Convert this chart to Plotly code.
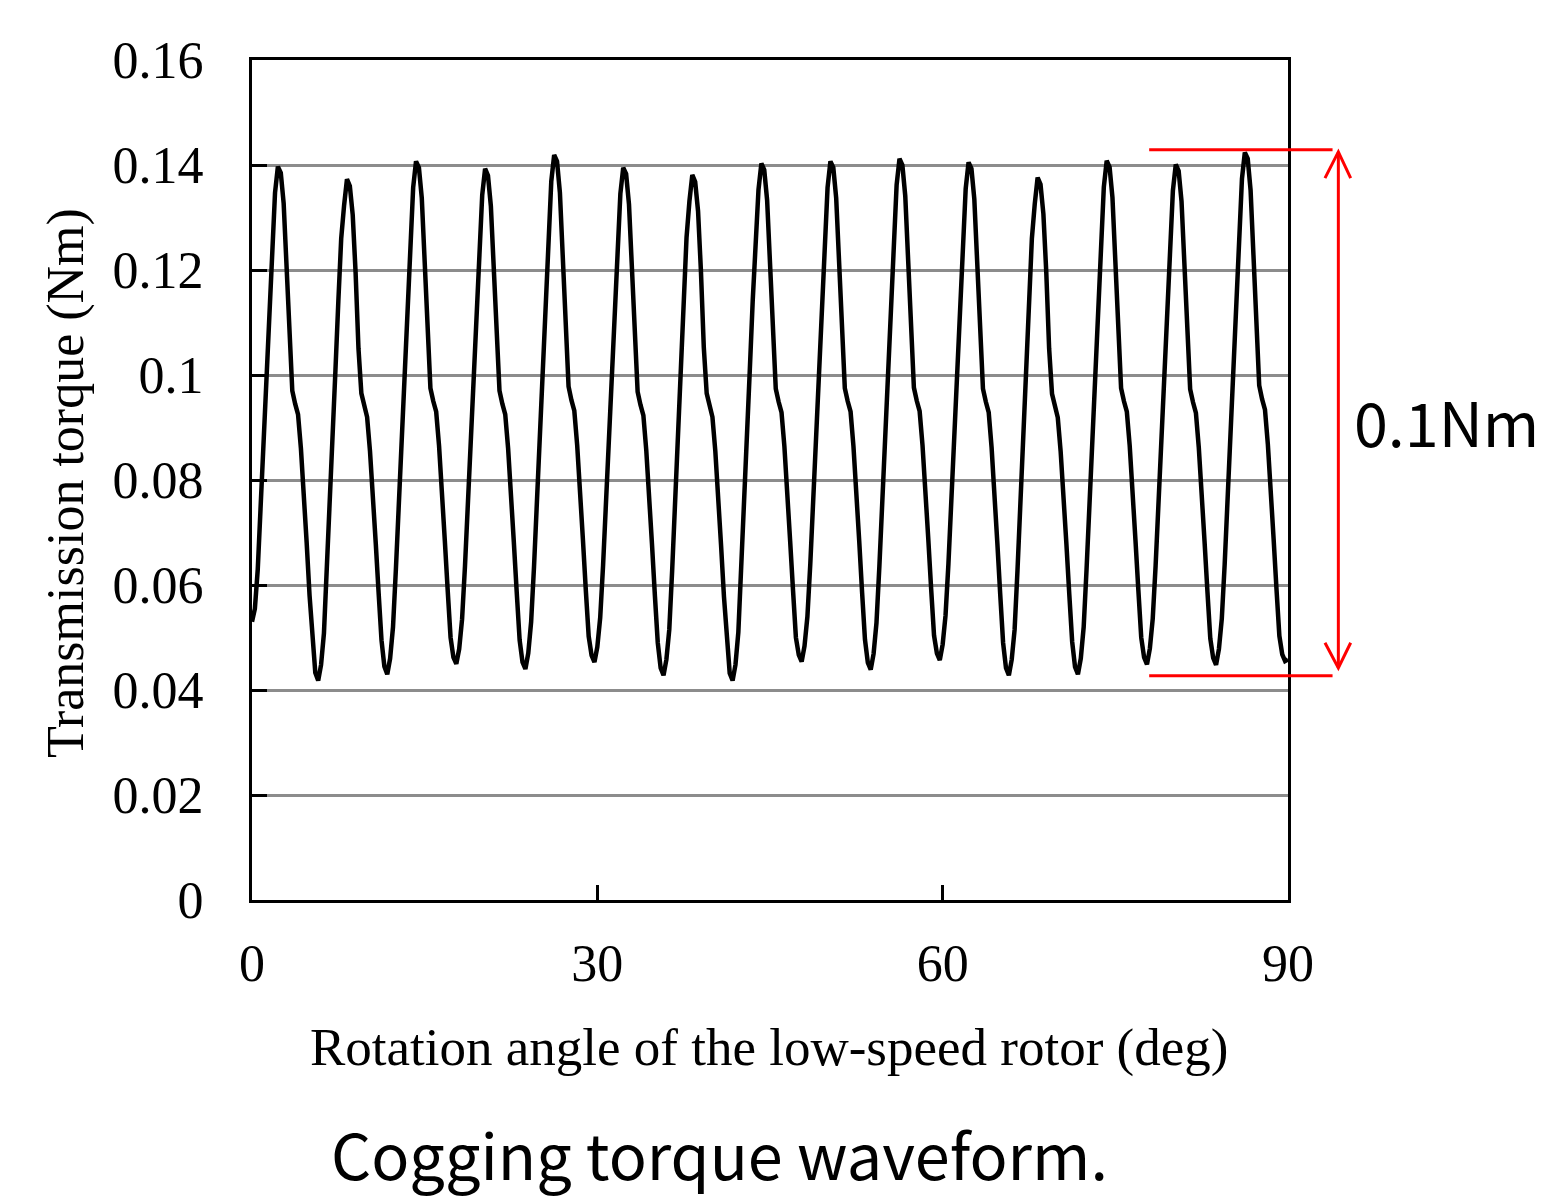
import plotly.graph_objects as go

# Rotation angle samples (deg), 0.25 deg step from 0 to 90
angle_deg = [i * 0.25 for i in range(361)]

# Transmission torque (Nm), one row per 6-degree period (24 samples each) + final point
torque_rows = [
    [0.0530, 0.0555, 0.0630, 0.0750, 0.0875, 0.1005, 0.1135, 0.1265, 0.1347, 0.1397, 0.1385, 0.1327,
     0.1210, 0.1060, 0.0970, 0.0945, 0.0925, 0.0860, 0.0780, 0.0680, 0.0580, 0.0490, 0.0433, 0.0418],
    [0.0448, 0.0508, 0.0625, 0.0750, 0.0880, 0.1010, 0.1140, 0.1260, 0.1323, 0.1373, 0.1360, 0.1305,
     0.1195, 0.1050, 0.0965, 0.0940, 0.0920, 0.0855, 0.0780, 0.0680, 0.0585, 0.0495, 0.0445, 0.0430],
    [0.0460, 0.0520, 0.0630, 0.0755, 0.0885, 0.1015, 0.1145, 0.1275, 0.1357, 0.1407, 0.1395, 0.1337,
     0.1215, 0.1065, 0.0975, 0.0950, 0.0930, 0.0865, 0.0785, 0.0685, 0.0590, 0.0500, 0.0462, 0.0450],
    [0.0478, 0.0535, 0.0635, 0.0755, 0.0880, 0.1010, 0.1140, 0.1265, 0.1343, 0.1393, 0.1380, 0.1322,
     0.1205, 0.1058, 0.0970, 0.0945, 0.0925, 0.0860, 0.0780, 0.0680, 0.0585, 0.0495, 0.0453, 0.0440],
    [0.0470, 0.0530, 0.0635, 0.0760, 0.0890, 0.1020, 0.1150, 0.1280, 0.1369, 0.1419, 0.1407, 0.1347,
     0.1222, 0.1068, 0.0978, 0.0952, 0.0932, 0.0866, 0.0786, 0.0686, 0.0590, 0.0502, 0.0466, 0.0453],
    [0.0482, 0.0538, 0.0638, 0.0755, 0.0880, 0.1010, 0.1140, 0.1265, 0.1345, 0.1395, 0.1383, 0.1325,
     0.1207, 0.1058, 0.0968, 0.0943, 0.0923, 0.0857, 0.0777, 0.0677, 0.0580, 0.0490, 0.0442, 0.0428],
    [0.0458, 0.0515, 0.0628, 0.0750, 0.0878, 0.1008, 0.1138, 0.1262, 0.1331, 0.1381, 0.1368, 0.1312,
     0.1198, 0.1052, 0.0965, 0.0940, 0.0920, 0.0855, 0.0775, 0.0675, 0.0578, 0.0488, 0.0432, 0.0418],
    [0.0448, 0.0510, 0.0625, 0.0752, 0.0882, 0.1012, 0.1142, 0.1272, 0.1353, 0.1403, 0.1391, 0.1333,
     0.1213, 0.1063, 0.0974, 0.0949, 0.0929, 0.0864, 0.0784, 0.0684, 0.0590, 0.0500, 0.0467, 0.0454],
    [0.0484, 0.0540, 0.0640, 0.0760, 0.0885, 0.1015, 0.1145, 0.1275, 0.1357, 0.1407, 0.1395, 0.1337,
     0.1215, 0.1065, 0.0975, 0.0950, 0.0930, 0.0864, 0.0784, 0.0684, 0.0586, 0.0496, 0.0452, 0.0439],
    [0.0469, 0.0528, 0.0635, 0.0758, 0.0887, 0.1017, 0.1147, 0.1277, 0.1362, 0.1412, 0.1400, 0.1341,
     0.1218, 0.1066, 0.0976, 0.0951, 0.0931, 0.0866, 0.0786, 0.0688, 0.0592, 0.0504, 0.0470, 0.0457],
    [0.0487, 0.0542, 0.0640, 0.0760, 0.0885, 0.1015, 0.1145, 0.1274, 0.1355, 0.1405, 0.1393, 0.1335,
     0.1214, 0.1064, 0.0974, 0.0949, 0.0929, 0.0862, 0.0782, 0.0680, 0.0582, 0.0490, 0.0442, 0.0428],
    [0.0458, 0.0515, 0.0628, 0.0750, 0.0878, 0.1008, 0.1138, 0.1260, 0.1326, 0.1376, 0.1363, 0.1307,
     0.1196, 0.1050, 0.0964, 0.0939, 0.0919, 0.0854, 0.0778, 0.0678, 0.0582, 0.0492, 0.0444, 0.0430],
    [0.0460, 0.0520, 0.0630, 0.0755, 0.0885, 0.1015, 0.1145, 0.1275, 0.1358, 0.1408, 0.1396, 0.1338,
     0.1216, 0.1065, 0.0975, 0.0950, 0.0930, 0.0865, 0.0785, 0.0685, 0.0590, 0.0500, 0.0462, 0.0449],
    [0.0479, 0.0536, 0.0637, 0.0757, 0.0883, 0.1013, 0.1143, 0.1271, 0.1351, 0.1401, 0.1389, 0.1331,
     0.1211, 0.1062, 0.0973, 0.0948, 0.0928, 0.0862, 0.0782, 0.0683, 0.0588, 0.0498, 0.0461, 0.0448],
    [0.0478, 0.0536, 0.0640, 0.0762, 0.0892, 0.1022, 0.1152, 0.1282, 0.1374, 0.1424, 0.1412, 0.1352,
     0.1226, 0.1070, 0.0980, 0.0954, 0.0934, 0.0868, 0.0788, 0.0688, 0.0592, 0.0503, 0.0468, 0.0455],
]
torque_end = [0.0458]
torque_nm = [v for row in torque_rows for v in row] + torque_end

# Ripple annotation levels (Nm)
ripple_max = 0.1429
ripple_min = 0.0427
ripple_label = "0.1Nm"

x_tick_vals = [0, 30, 60, 90]
x_tick_text = ["0", "30", "60", "90"]
y_tick_vals = [0, 0.02, 0.04, 0.06, 0.08, 0.10, 0.12, 0.14, 0.16]
y_tick_text = ["0", "0.02", "0.04", "0.06", "0.08", "0.1", "0.12", "0.14", "0.16"]

x_title = "Rotation angle of the low-speed rotor (deg)"
y_title = "Transmission torque (Nm)"
caption = "Cogging torque waveform."

serif = "Liberation Serif, Times New Roman, serif"
gothic = "Noto Sans CJK JP, Noto Sans, sans-serif"

fig = go.Figure()
fig.add_trace(go.Scatter(
    x=angle_deg, y=torque_nm, mode="lines",
    line=dict(color="black", width=4.5),
    showlegend=False, hoverinfo="x+y",
))

red = "#ff0000"
# horizontal red reference lines at max / min
for yv in (ripple_max, ripple_min):
    fig.add_shape(type="line", xref="paper", yref="y",
                  x0=0.866, x1=1.043, y0=yv, y1=yv,
                  line=dict(color=red, width=3))
# double arrow
ax = 1.0486
tip_top = 0.1425
tip_bot = 0.0442
fig.add_shape(type="line", xref="paper", yref="y",
              x0=ax, x1=ax, y0=tip_top, y1=tip_bot,
              line=dict(color=red, width=3))
fig.add_shape(type="path", xref="paper", yref="y",
              path=f"M {ax-0.0129},{tip_top-0.005} L {ax},{tip_top} L {ax+0.0119},{tip_top-0.005}",
              line=dict(color=red, width=3))
fig.add_shape(type="path", xref="paper", yref="y",
              path=f"M {ax-0.0129},{tip_bot+0.0048} L {ax},{tip_bot} L {ax+0.0119},{tip_bot+0.0048}",
              line=dict(color=red, width=3))

fig.add_annotation(text=ripple_label, xref="paper", yref="paper",
                   x=(1352 - 252) / 1036, y=(900 - 420) / 840, xanchor="left", yanchor="middle",
                   showarrow=False, font=dict(family=gothic, size=61, color="black"))

fig.add_annotation(text=x_title, xref="paper", yref="paper",
                   x=(769 - 252) / 1036, y=(900 - 1047) / 840, xanchor="center", yanchor="middle",
                   showarrow=False, font=dict(family=serif, size=53, color="black"))
fig.add_annotation(text=y_title, xref="paper", yref="paper", textangle=-90,
                   x=(66 - 252) / 1036, y=(900 - 483) / 840, xanchor="center", yanchor="middle",
                   showarrow=False, font=dict(family=serif, size=52, color="black"))
fig.add_annotation(text=caption, xref="paper", yref="paper",
                   x=(719 - 252) / 1036, y=(900 - 1152) / 840, xanchor="center", yanchor="middle",
                   showarrow=False, font=dict(family=gothic, size=63, color="black"))

fig.update_layout(
    width=1543, height=1198,
    margin=dict(l=252, r=255, t=60, b=298),
    paper_bgcolor="white", plot_bgcolor="white",
    font=dict(family=serif, color="black"),
    xaxis=dict(range=[0, 90], tickvals=x_tick_vals, ticktext=x_tick_text,
               ticks="inside", ticklen=15, tickwidth=3, tickcolor="black",
               showline=True, linecolor="black", linewidth=3, mirror=True,
               showgrid=False, zeroline=False,
               tickfont=dict(family=serif, size=52, color="black"),
               ticklabelstandoff=16),
    yaxis=dict(range=[0, 0.16], tickvals=y_tick_vals, ticktext=y_tick_text,
               ticks="inside", ticklen=15, tickwidth=3, tickcolor="black",
               showline=True, linecolor="black", linewidth=3, mirror=True,
               showgrid=True, gridcolor="#8c8c8c", gridwidth=3, zeroline=False,
               tickfont=dict(family=serif, size=52, color="black"),
               ticklabelstandoff=35),
)

fig.write_html("out.html",
               config={"displayModeBar": False},
               post_script="document.body.style.margin='0';document.body.style.overflow='hidden';")
